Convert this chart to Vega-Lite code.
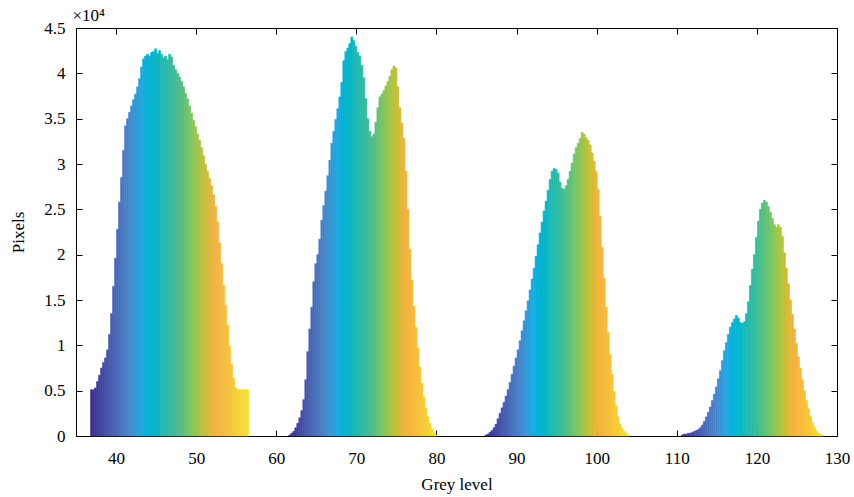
{
  "$schema": "https://vega.github.io/schema/vega-lite/v6.json",
  "width": 761,
  "height": 408,
  "autosize": {"type": "none"},
  "padding": {"left": 76, "top": 28, "right": 17, "bottom": 61},
  "background": "white",
  "config": {
    "view": {"stroke": null},
    "axis": {"grid": false, "domainColor": "black", "tickColor": "black", "labelFont": "Liberation Serif", "labelFontSize": 17, "labelColor": "black", "titleFont": "Liberation Serif", "titleFontSize": 17, "titleFontWeight": "normal", "titleColor": "black", "tickSize": -6, "domainWidth": 1}
  },
  "data": {"values": [
    {"p":1,"g":36.75,"n":5100},{"p":1,"g":37.0,"n":5100},{"p":1,"g":37.25,"n":5300},{"p":1,"g":37.5,"n":6000},{"p":1,"g":37.75,"n":6700},{"p":1,"g":38.0,"n":7500},{"p":1,"g":38.25,"n":8100},{"p":1,"g":38.5,"n":8600},{"p":1,"g":38.75,"n":9500},{"p":1,"g":39.0,"n":11200},{"p":1,"g":39.25,"n":13500},{"p":1,"g":39.5,"n":16500},{"p":1,"g":39.75,"n":19600},{"p":1,"g":40.0,"n":22800},{"p":1,"g":40.25,"n":25800},{"p":1,"g":40.5,"n":28500},{"p":1,"g":40.75,"n":31500},{"p":1,"g":41.0,"n":34200},{"p":1,"g":41.25,"n":35000},{"p":1,"g":41.5,"n":35700},{"p":1,"g":41.75,"n":36400},{"p":1,"g":42.0,"n":37100},{"p":1,"g":42.25,"n":37700},{"p":1,"g":42.5,"n":38500},{"p":1,"g":42.75,"n":39400},{"p":1,"g":43.0,"n":40700},{"p":1,"g":43.25,"n":41600},{"p":1,"g":43.5,"n":41900},{"p":1,"g":43.75,"n":42100},{"p":1,"g":44.0,"n":41900},{"p":1,"g":44.25,"n":42300},{"p":1,"g":44.5,"n":42400},{"p":1,"g":44.75,"n":42700},{"p":1,"g":45.0,"n":42200},{"p":1,"g":45.25,"n":42500},{"p":1,"g":45.5,"n":42100},{"p":1,"g":45.75,"n":41700},{"p":1,"g":46.0,"n":41900},{"p":1,"g":46.25,"n":41500},{"p":1,"g":46.5,"n":42100},{"p":1,"g":46.75,"n":41800},{"p":1,"g":47.0,"n":40900},{"p":1,"g":47.25,"n":40400},{"p":1,"g":47.5,"n":40000},{"p":1,"g":47.75,"n":39600},{"p":1,"g":48.0,"n":39100},{"p":1,"g":48.25,"n":38500},{"p":1,"g":48.5,"n":37800},{"p":1,"g":48.75,"n":37200},{"p":1,"g":49.0,"n":36400},{"p":1,"g":49.25,"n":35600},{"p":1,"g":49.5,"n":34800},{"p":1,"g":49.75,"n":34100},{"p":1,"g":50.0,"n":33300},{"p":1,"g":50.25,"n":32600},{"p":1,"g":50.5,"n":31800},{"p":1,"g":50.75,"n":30900},{"p":1,"g":51.0,"n":30000},{"p":1,"g":51.25,"n":29200},{"p":1,"g":51.5,"n":28400},{"p":1,"g":51.75,"n":27600},{"p":1,"g":52.0,"n":26600},{"p":1,"g":52.25,"n":25300},{"p":1,"g":52.5,"n":23600},{"p":1,"g":52.75,"n":21300},{"p":1,"g":53.0,"n":19000},{"p":1,"g":53.25,"n":16600},{"p":1,"g":53.5,"n":14400},{"p":1,"g":53.75,"n":12200},{"p":1,"g":54.0,"n":9900},{"p":1,"g":54.25,"n":7900},{"p":1,"g":54.5,"n":6400},{"p":1,"g":54.75,"n":5300},{"p":1,"g":55.0,"n":5100},{"p":1,"g":55.25,"n":5100},{"p":1,"g":55.5,"n":5100},{"p":1,"g":55.75,"n":5100},{"p":1,"g":56.0,"n":5100},{"p":1,"g":56.25,"n":5100},
    {"p":2,"g":61.5,"n":100},{"p":2,"g":61.75,"n":300},{"p":2,"g":62.0,"n":500},{"p":2,"g":62.25,"n":900},{"p":2,"g":62.5,"n":1400},{"p":2,"g":62.75,"n":2000},{"p":2,"g":63.0,"n":2800},{"p":2,"g":63.25,"n":4000},{"p":2,"g":63.5,"n":6200},{"p":2,"g":63.75,"n":9300},{"p":2,"g":64.0,"n":11800},{"p":2,"g":64.25,"n":14200},{"p":2,"g":64.5,"n":17000},{"p":2,"g":64.75,"n":19000},{"p":2,"g":65.0,"n":20000},{"p":2,"g":65.25,"n":21700},{"p":2,"g":65.5,"n":23800},{"p":2,"g":65.75,"n":25400},{"p":2,"g":66.0,"n":27000},{"p":2,"g":66.25,"n":28700},{"p":2,"g":66.5,"n":30400},{"p":2,"g":66.75,"n":32300},{"p":2,"g":67.0,"n":33600},{"p":2,"g":67.25,"n":34900},{"p":2,"g":67.5,"n":36100},{"p":2,"g":67.75,"n":37400},{"p":2,"g":68.0,"n":39000},{"p":2,"g":68.25,"n":41400},{"p":2,"g":68.5,"n":42400},{"p":2,"g":68.75,"n":42800},{"p":2,"g":69.0,"n":43300},{"p":2,"g":69.25,"n":44000},{"p":2,"g":69.5,"n":43600},{"p":2,"g":69.75,"n":43000},{"p":2,"g":70.0,"n":42300},{"p":2,"g":70.25,"n":41900},{"p":2,"g":70.5,"n":40900},{"p":2,"g":70.75,"n":39500},{"p":2,"g":71.0,"n":37200},{"p":2,"g":71.25,"n":35000},{"p":2,"g":71.5,"n":33600},{"p":2,"g":71.75,"n":33000},{"p":2,"g":72.0,"n":33300},{"p":2,"g":72.25,"n":34600},{"p":2,"g":72.5,"n":36200},{"p":2,"g":72.75,"n":37400},{"p":2,"g":73.0,"n":37700},{"p":2,"g":73.25,"n":38100},{"p":2,"g":73.5,"n":38600},{"p":2,"g":73.75,"n":39100},{"p":2,"g":74.0,"n":39700},{"p":2,"g":74.25,"n":40400},{"p":2,"g":74.5,"n":40800},{"p":2,"g":74.75,"n":40600},{"p":2,"g":75.0,"n":38500},{"p":2,"g":75.25,"n":36200},{"p":2,"g":75.5,"n":34500},{"p":2,"g":75.75,"n":32800},{"p":2,"g":76.0,"n":29200},{"p":2,"g":76.25,"n":25000},{"p":2,"g":76.5,"n":20600},{"p":2,"g":76.75,"n":17200},{"p":2,"g":77.0,"n":14300},{"p":2,"g":77.25,"n":12000},{"p":2,"g":77.5,"n":9700},{"p":2,"g":77.75,"n":7600},{"p":2,"g":78.0,"n":5800},{"p":2,"g":78.25,"n":4300},{"p":2,"g":78.5,"n":3100},{"p":2,"g":78.75,"n":2100},{"p":2,"g":79.0,"n":1400},{"p":2,"g":79.25,"n":800},{"p":2,"g":79.5,"n":400},{"p":2,"g":79.75,"n":100},
    {"p":3,"g":86.0,"n":100},{"p":3,"g":86.25,"n":200},{"p":3,"g":86.5,"n":400},{"p":3,"g":86.75,"n":600},{"p":3,"g":87.0,"n":900},{"p":3,"g":87.25,"n":1300},{"p":3,"g":87.5,"n":1900},{"p":3,"g":87.75,"n":2500},{"p":3,"g":88.0,"n":3100},{"p":3,"g":88.25,"n":3700},{"p":3,"g":88.5,"n":4400},{"p":3,"g":88.75,"n":5100},{"p":3,"g":89.0,"n":5900},{"p":3,"g":89.25,"n":6800},{"p":3,"g":89.5,"n":7700},{"p":3,"g":89.75,"n":8600},{"p":3,"g":90.0,"n":9500},{"p":3,"g":90.25,"n":10500},{"p":3,"g":90.5,"n":11600},{"p":3,"g":90.75,"n":12700},{"p":3,"g":91.0,"n":13800},{"p":3,"g":91.25,"n":14900},{"p":3,"g":91.5,"n":16100},{"p":3,"g":91.75,"n":17300},{"p":3,"g":92.0,"n":18500},{"p":3,"g":92.25,"n":19800},{"p":3,"g":92.5,"n":21100},{"p":3,"g":92.75,"n":22400},{"p":3,"g":93.0,"n":23600},{"p":3,"g":93.25,"n":24800},{"p":3,"g":93.5,"n":25900},{"p":3,"g":93.75,"n":27100},{"p":3,"g":94.0,"n":28300},{"p":3,"g":94.25,"n":29200},{"p":3,"g":94.5,"n":29500},{"p":3,"g":94.75,"n":29400},{"p":3,"g":95.0,"n":29000},{"p":3,"g":95.25,"n":28000},{"p":3,"g":95.5,"n":27300},{"p":3,"g":95.75,"n":27200},{"p":3,"g":96.0,"n":27600},{"p":3,"g":96.25,"n":28300},{"p":3,"g":96.5,"n":29200},{"p":3,"g":96.75,"n":30100},{"p":3,"g":97.0,"n":31100},{"p":3,"g":97.25,"n":31800},{"p":3,"g":97.5,"n":32300},{"p":3,"g":97.75,"n":32800},{"p":3,"g":98.0,"n":33500},{"p":3,"g":98.25,"n":33300},{"p":3,"g":98.5,"n":32900},{"p":3,"g":98.75,"n":32600},{"p":3,"g":99.0,"n":32100},{"p":3,"g":99.25,"n":31200},{"p":3,"g":99.5,"n":30300},{"p":3,"g":99.75,"n":29200},{"p":3,"g":100.0,"n":27200},{"p":3,"g":100.25,"n":24200},{"p":3,"g":100.5,"n":20800},{"p":3,"g":100.75,"n":17400},{"p":3,"g":101.0,"n":14200},{"p":3,"g":101.25,"n":11400},{"p":3,"g":101.5,"n":9000},{"p":3,"g":101.75,"n":6800},{"p":3,"g":102.0,"n":4900},{"p":3,"g":102.25,"n":3300},{"p":3,"g":102.5,"n":2100},{"p":3,"g":102.75,"n":1300},{"p":3,"g":103.0,"n":800},{"p":3,"g":103.25,"n":500},{"p":3,"g":103.5,"n":300},{"p":3,"g":103.75,"n":100},
    {"p":4,"g":110.5,"n":100},{"p":4,"g":110.75,"n":200},{"p":4,"g":111.0,"n":200},{"p":4,"g":111.25,"n":300},{"p":4,"g":111.5,"n":300},{"p":4,"g":111.75,"n":400},{"p":4,"g":112.0,"n":500},{"p":4,"g":112.25,"n":600},{"p":4,"g":112.5,"n":700},{"p":4,"g":112.75,"n":900},{"p":4,"g":113.0,"n":1200},{"p":4,"g":113.25,"n":1600},{"p":4,"g":113.5,"n":2100},{"p":4,"g":113.75,"n":2600},{"p":4,"g":114.0,"n":3200},{"p":4,"g":114.25,"n":3900},{"p":4,"g":114.5,"n":4600},{"p":4,"g":114.75,"n":5400},{"p":4,"g":115.0,"n":6300},{"p":4,"g":115.25,"n":7200},{"p":4,"g":115.5,"n":8300},{"p":4,"g":115.75,"n":9400},{"p":4,"g":116.0,"n":10300},{"p":4,"g":116.25,"n":11200},{"p":4,"g":116.5,"n":12000},{"p":4,"g":116.75,"n":12500},{"p":4,"g":117.0,"n":12900},{"p":4,"g":117.25,"n":13300},{"p":4,"g":117.5,"n":13000},{"p":4,"g":117.75,"n":12500},{"p":4,"g":118.0,"n":12400},{"p":4,"g":118.25,"n":12600},{"p":4,"g":118.5,"n":13500},{"p":4,"g":118.75,"n":14800},{"p":4,"g":119.0,"n":16600},{"p":4,"g":119.25,"n":18400},{"p":4,"g":119.5,"n":20000},{"p":4,"g":119.75,"n":21900},{"p":4,"g":120.0,"n":23700},{"p":4,"g":120.25,"n":25000},{"p":4,"g":120.5,"n":25700},{"p":4,"g":120.75,"n":26000},{"p":4,"g":121.0,"n":25800},{"p":4,"g":121.25,"n":25300},{"p":4,"g":121.5,"n":24700},{"p":4,"g":121.75,"n":24000},{"p":4,"g":122.0,"n":23300},{"p":4,"g":122.25,"n":23000},{"p":4,"g":122.5,"n":23300},{"p":4,"g":122.75,"n":23000},{"p":4,"g":123.0,"n":22000},{"p":4,"g":123.25,"n":20200},{"p":4,"g":123.5,"n":18500},{"p":4,"g":123.75,"n":16800},{"p":4,"g":124.0,"n":15000},{"p":4,"g":124.25,"n":13400},{"p":4,"g":124.5,"n":11800},{"p":4,"g":124.75,"n":10200},{"p":4,"g":125.0,"n":8700},{"p":4,"g":125.25,"n":7500},{"p":4,"g":125.5,"n":6200},{"p":4,"g":125.75,"n":5000},{"p":4,"g":126.0,"n":3900},{"p":4,"g":126.25,"n":3000},{"p":4,"g":126.5,"n":2200},{"p":4,"g":126.75,"n":1500},{"p":4,"g":127.0,"n":1000},{"p":4,"g":127.25,"n":600},{"p":4,"g":127.5,"n":300},{"p":4,"g":127.75,"n":200},{"p":4,"g":128.0,"n":100}
  ]},
  "resolve": {"scale": {"color": "independent", "stroke": "independent"}, "axis": {"x": "independent", "y": "independent"}},
  "layer": [
    {
      "transform": [{"filter": "datum.p == 1"}],
      "mark": {"type": "bar", "binSpacing": 0, "strokeWidth": 0.6},
      "encoding": {
        "x": {"field": "g", "type": "quantitative", "bin": {"binned": true, "step": 0.25},
              "scale": {"domain": [35, 130], "nice": false, "zero": false},
              "axis": {"orient": "bottom", "values": [40,50,60,70,80,90,100,110,120,130], "format": "d", "title": "Grey level", "labelPadding": 20, "titlePadding": 10, "labelFlush": false}},
        "y": {"field": "n", "type": "quantitative",
              "scale": {"domain": [0, 45000], "nice": false},
              "axis": {"orient": "left", "values": [0,5000,10000,15000,20000,25000,30000,35000,40000,45000], "labelExpr": "datum.value / 10000", "title": "Pixels", "labelPadding": 17, "titlePadding": 16, "labelFlush": false}},
        "color": {"field": "g", "type": "quantitative", "legend": null,
                  "scale": {"domain": [36.75, 56.5], "range": ["#3a2e8e", "#4657ab", "#4a7fc6", "#14aee0", "#20b8b4", "#4cbc86", "#9ac649", "#f3b03e", "#f8c638", "#eee631"]}},
        "stroke": {"field": "g", "type": "quantitative", "legend": null,
                  "scale": {"domain": [36.75, 56.5], "range": ["#3a2e8e", "#4657ab", "#4a7fc6", "#14aee0", "#20b8b4", "#4cbc86", "#9ac649", "#f3b03e", "#f8c638", "#eee631"]}}
      }
    },
    {
      "transform": [{"filter": "datum.p == 2"}],
      "mark": {"type": "bar", "binSpacing": 0, "strokeWidth": 0.6},
      "encoding": {
        "x": {"field": "g", "type": "quantitative", "bin": {"binned": true, "step": 0.25}, "axis": null},
        "y": {"field": "n", "type": "quantitative", "axis": null},
        "color": {"field": "g", "type": "quantitative", "legend": null,
                  "scale": {"domain": [61.5, 80], "range": ["#3a2e8e", "#4657ab", "#4a7fc6", "#14aee0", "#20b8b4", "#4cbc86", "#9ac649", "#f3b03e", "#f8c638", "#eee631"]}},
        "stroke": {"field": "g", "type": "quantitative", "legend": null,
                  "scale": {"domain": [61.5, 80], "range": ["#3a2e8e", "#4657ab", "#4a7fc6", "#14aee0", "#20b8b4", "#4cbc86", "#9ac649", "#f3b03e", "#f8c638", "#eee631"]}}
      }
    },
    {
      "transform": [{"filter": "datum.p == 3"}],
      "mark": {"type": "bar", "binSpacing": 0, "strokeWidth": 0.6},
      "encoding": {
        "x": {"field": "g", "type": "quantitative", "bin": {"binned": true, "step": 0.25}, "axis": null},
        "y": {"field": "n", "type": "quantitative", "axis": null},
        "color": {"field": "g", "type": "quantitative", "legend": null,
                  "scale": {"domain": [86, 104], "range": ["#3a2e8e", "#4657ab", "#4a7fc6", "#14aee0", "#20b8b4", "#4cbc86", "#9ac649", "#f3b03e", "#f8c638", "#eee631"]}},
        "stroke": {"field": "g", "type": "quantitative", "legend": null,
                  "scale": {"domain": [86, 104], "range": ["#3a2e8e", "#4657ab", "#4a7fc6", "#14aee0", "#20b8b4", "#4cbc86", "#9ac649", "#f3b03e", "#f8c638", "#eee631"]}}
      }
    },
    {
      "transform": [{"filter": "datum.p == 4"}],
      "mark": {"type": "bar", "binSpacing": 0, "strokeWidth": 0.6},
      "encoding": {
        "x": {"field": "g", "type": "quantitative", "bin": {"binned": true, "step": 0.25}, "axis": null},
        "y": {"field": "n", "type": "quantitative", "axis": null},
        "color": {"field": "g", "type": "quantitative", "legend": null,
                  "scale": {"domain": [110.5, 128.25], "range": ["#3a2e8e", "#4657ab", "#4a7fc6", "#14aee0", "#20b8b4", "#4cbc86", "#9ac649", "#f3b03e", "#f8c638", "#eee631"]}},
        "stroke": {"field": "g", "type": "quantitative", "legend": null,
                  "scale": {"domain": [110.5, 128.25], "range": ["#3a2e8e", "#4657ab", "#4a7fc6", "#14aee0", "#20b8b4", "#4cbc86", "#9ac649", "#f3b03e", "#f8c638", "#eee631"]}}
      }
    },
    {
      "mark": {"type": "point", "opacity": 0},
      "encoding": {
        "x": {"field": "g", "type": "quantitative", "axis": {"orient": "top", "values": [40,50,60,70,80,90,100,110,120,130], "labels": false, "title": "×10⁴", "titleAnchor": "start", "titleAlign": "left", "titleAngle": 0, "titleX": -4, "titleY": -8, "titleBaseline": "alphabetic"}},
        "y": {"field": "n", "type": "quantitative", "axis": {"orient": "right", "values": [0,5000,10000,15000,20000,25000,30000,35000,40000,45000], "labels": false, "title": null}}
      }
    }
  ]
}
